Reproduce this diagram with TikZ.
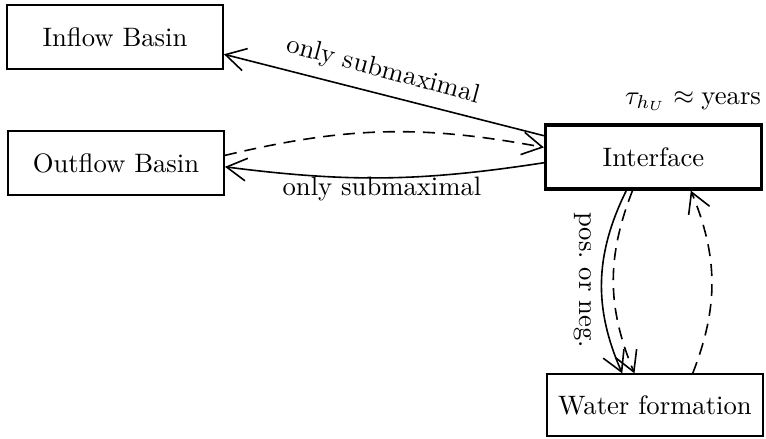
\documentclass[tikz,border=0pt]{standalone}
\usetikzlibrary{arrows.meta}
\begin{document}
\begin{tikzpicture}[
  x=0.375pt, y=-0.375pt,
  line width=0.6pt,
  >={Straight Barb[length=7.5pt,width=8.5pt]},
  flowdash/.style={dash pattern=on 4.5pt off 3pt},
  every node/.style={font=\fontsize{10pt}{12pt}\selectfont},
  basin/.style={draw, line width=0.7pt, minimum width=81pt, minimum height=24pt, inner sep=0pt},
  thickbasin/.style={basin, line width=1.2pt}
]
  \useasboundingbox (0,0) rectangle (766,438);
  % ---- boxes ----
  \node[basin] (inflow) at (115,37) {Inflow Basin};
  \node[basin] (outflow) at (116,163) {Outflow Basin};
  \node[thickbasin] (iface) at (653.5,157) {Interface};
  \node[basin, minimum height=23pt] (water) at (655,405) {Water formation};
  % ---- horizontal connectors ----
  \draw[->] (iface.169.6) -- (inflow.-9.8);
  \draw[->, flowdash] (outflow.4.7) to[bend left=12] (iface.175.8);
  \draw[->] (iface.-177) to[bend left=8] (outflow.-2.6);
  % ---- vertical connectors ----
  \draw[->] (iface.-129.6) to[bend right=25] (water.136.8);
  \draw[->, flowdash] (iface.-122.6) to[bend right=22] (water.123.7);
  \draw[->, flowdash] (water.40.6) to[bend right=22] (iface.-42);
  % ---- labels ----
  \node[rotate=-15] (lblin) at (383,71) {only submaximal};
  \node (lblout) at (382,189) {only submaximal};
  \node (lbltau) at (693,101) {$\tau_{h_U}\approx\mbox{years}$};
  \node[rotate=-90] (lblpos) at (583,280) {pos.\ or neg.};
\end{tikzpicture}
\end{document}
